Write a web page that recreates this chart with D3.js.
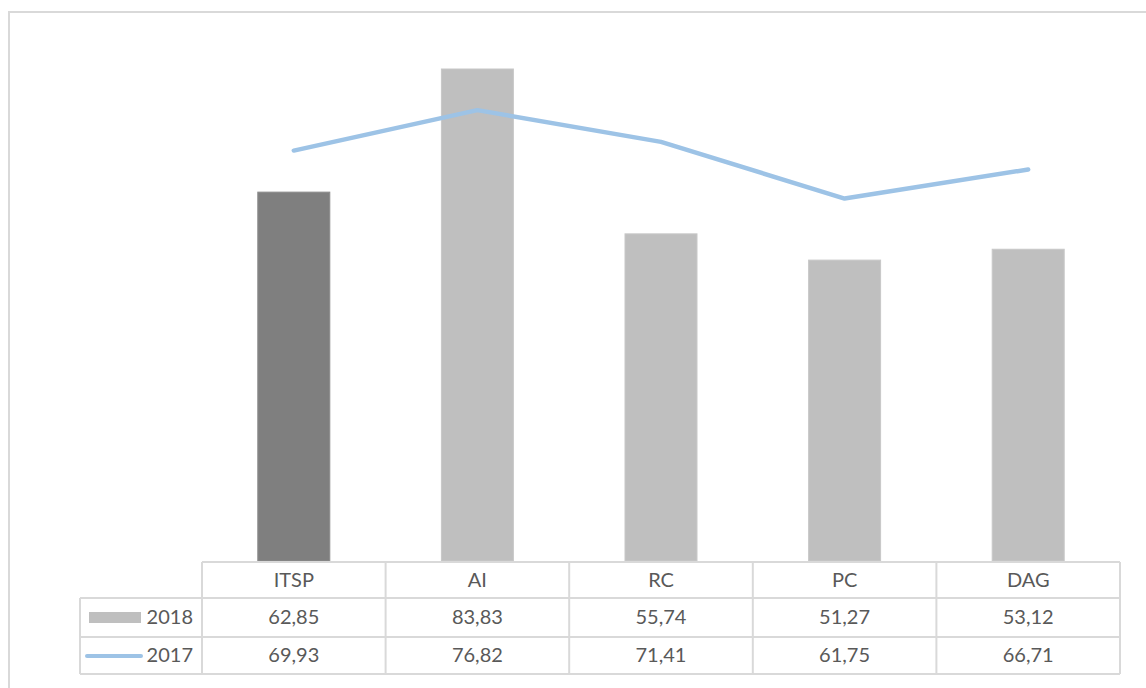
<!DOCTYPE html>
<html><head><meta charset="utf-8">
<script src="https://cdn.jsdelivr.net/npm/d3@7"></script>
<style>body{margin:0;background:#fff;}svg{display:block;}</style>
</head><body>
<svg id="chart" width="1146" height="688"></svg>
<script>
const categories = ["ITSP", "AI", "RC", "PC", "DAG"];
const values2018 = [62.85, 83.83, 55.74, 51.27, 53.12];
const values2017 = [69.93, 76.82, 71.41, 61.75, 66.71];
const seriesNames = ["2018", "2017"];
const labels2018 = ["62,85", "83,83", "55,74", "51,27", "53,12"];
const labels2017 = ["69,93", "76,82", "71,41", "61,75", "66,71"];

const svg = d3.select("#chart");
const font = "Lato, 'Open Sans', sans-serif";
const textColor = "#595959";
const gridColor = "#d9d9d9";

// outer frame
svg.append("rect").attr("x", 9).attr("y", 12).attr("width", 1146).attr("height", 700)
  .attr("fill", "#fff").attr("stroke", "#d9d9d9").attr("stroke-width", 2);

const x = d3.scaleBand().domain(categories).range([202, 1120]).paddingInner(0).paddingOuter(0);
const y = d3.scaleLinear().domain([0, 90]).range([561, 561 - 90 * 5.869]);
const barW = 72;

// bars
svg.append("g").selectAll("rect").data(categories).join("rect")
  .attr("x", d => x(d) + x.bandwidth() / 2 - barW / 2)
  .attr("width", barW)
  .attr("y", (d, i) => y(values2018[i]))
  .attr("height", (d, i) => y(0) - y(values2018[i]))
  .attr("fill", (d, i) => i === 0 ? "#7f7f7f" : "#bfbfbf")
  .attr("stroke", (d, i) => i === 0 ? "#8c8c8c" : "#c8c8c8")
  .attr("stroke-width", 1);

// line
const line = d3.line().x(d => x(d[0]) + x.bandwidth() / 2).y(d => y(d[1]));
svg.append("path").datum(categories.map((c, i) => [c, values2017[i]]))
  .attr("d", line).attr("fill", "none").attr("stroke", "#9dc3e6")
  .attr("stroke-width", 4.5).attr("stroke-linecap", "round").attr("stroke-linejoin", "round");

// data table
const rowY = [562, 598, 637, 674];
const tbl = svg.append("g").attr("stroke", gridColor).attr("stroke-width", 2).attr("fill", "none");
tbl.append("line").attr("x1", 202).attr("x2", 1120).attr("y1", rowY[0]).attr("y2", rowY[0]);
[1, 2, 3].forEach(r => tbl.append("line").attr("x1", 80).attr("x2", 1120).attr("y1", rowY[r]).attr("y2", rowY[r]));
tbl.append("line").attr("x1", 80).attr("x2", 80).attr("y1", rowY[1]).attr("y2", rowY[3]);
categories.forEach(c => tbl.append("line").attr("x1", x(c)).attr("x2", x(c)).attr("y1", rowY[0]).attr("y2", rowY[3]));
tbl.append("line").attr("x1", 1120).attr("x2", 1120).attr("y1", rowY[0]).attr("y2", rowY[3]);

const txt = svg.append("g").attr("font-family", font).attr("font-size", 20).attr("fill", textColor)
  .attr("text-anchor", "middle");
categories.forEach((c, i) => {
  const cx = x(c) + x.bandwidth() / 2;
  txt.append("text").attr("x", cx).attr("y", (rowY[0] + rowY[1]) / 2 - 0.5).attr("dy", "0.35em").text(c);
  txt.append("text").attr("x", cx).attr("y", (rowY[1] + rowY[2]) / 2 - 1).attr("dy", "0.35em").text(labels2018[i]);
  txt.append("text").attr("x", cx).attr("y", (rowY[2] + rowY[3]) / 2 - 1).attr("dy", "0.35em").text(labels2017[i]);
});

// legend keys
svg.append("rect").attr("x", 89).attr("y", 612).attr("width", 52).attr("height", 11).attr("fill", "#bfbfbf");
svg.append("line").attr("x1", 87).attr("x2", 141).attr("y1", 656).attr("y2", 656)
  .attr("stroke", "#9dc3e6").attr("stroke-width", 4).attr("stroke-linecap", "round");
txt.append("text").attr("x", 193).attr("y", (rowY[1] + rowY[2]) / 2 - 1).attr("dy", "0.35em")
  .attr("text-anchor", "end").text(seriesNames[0]);
txt.append("text").attr("x", 193).attr("y", (rowY[2] + rowY[3]) / 2 - 1).attr("dy", "0.35em")
  .attr("text-anchor", "end").text(seriesNames[1]);
</script>
</body></html>
